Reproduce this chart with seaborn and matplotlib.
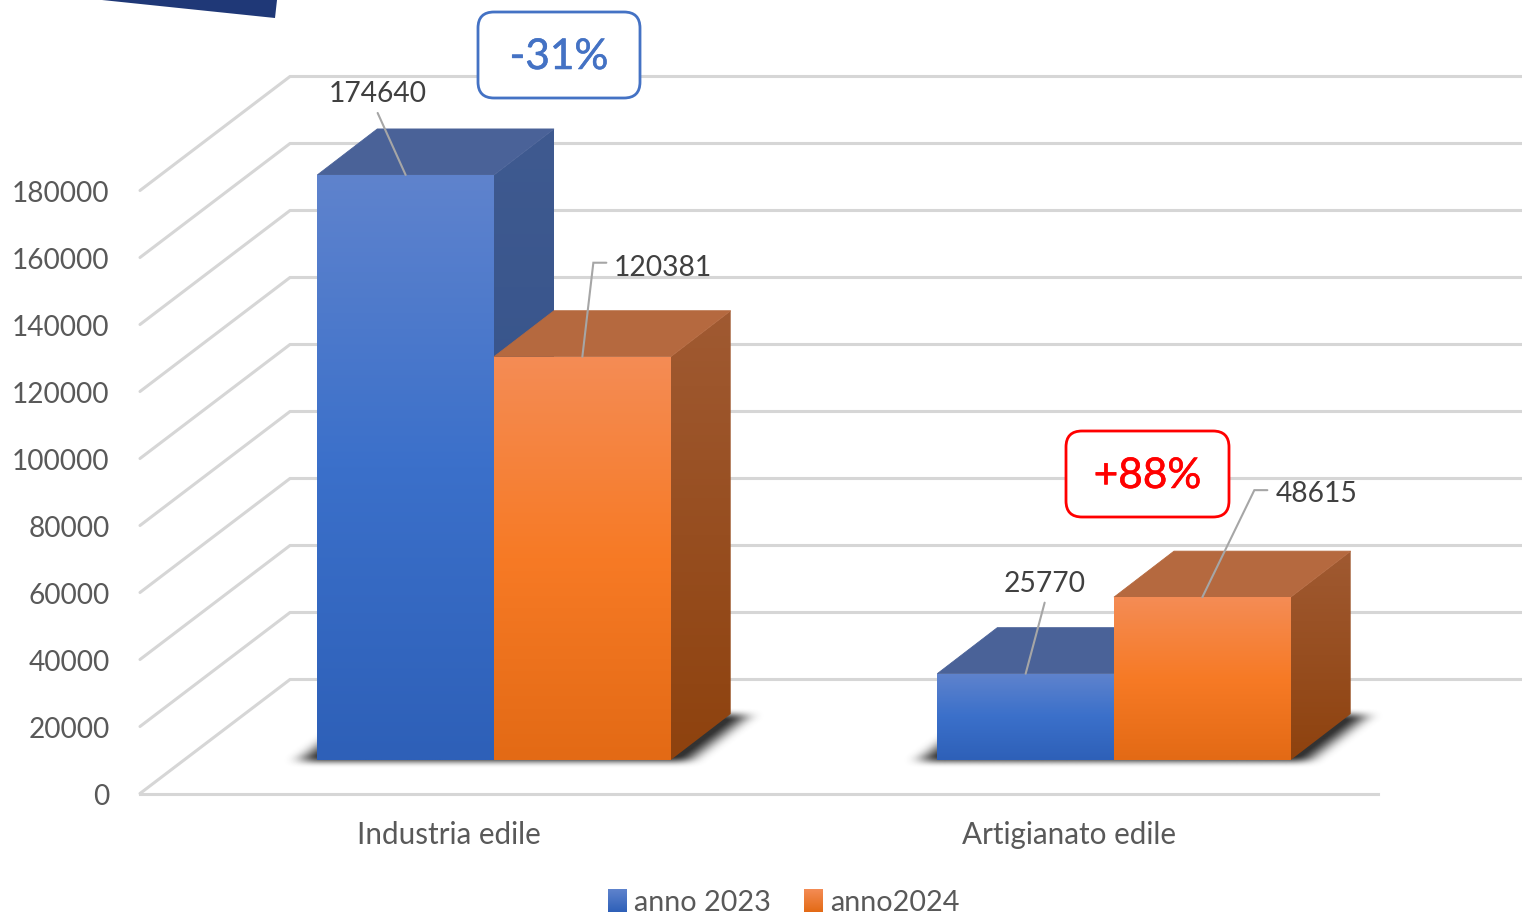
import numpy as np
import pandas as pd
import matplotlib
matplotlib.use('Agg')
import matplotlib.pyplot as plt
import matplotlib.patheffects as pe
import matplotlib.transforms as mtransforms
from matplotlib.colors import LinearSegmentedColormap
from matplotlib.patches import FancyBboxPatch, Polygon, Patch
import seaborn as sns

# Dati del grafico
categorie = ['Industria edile', 'Artigianato edile']
anno_2023 = [174640, 25770]
anno_2024 = [120381, 48615]
serie = ['anno 2023', 'anno2024']
tick_y = [0, 20000, 40000, 60000, 80000, 100000, 120000, 140000, 160000, 180000]

W, H = 1522, 914
SY = 67 / 20000      # pixel per unita
SX = 620             # pixel per categoria
DX, DY = 60 / SX, 46 / SY          # profondita delle barre
WALL_DX, WALL_DY = 150 / SX, 114 / SY  # profondita del pavimento

COL_GRID = '#d6d6d6'
COL_TEXT = '#595959'
COL_LABEL = '#404040'

sns.set_theme(style='white')
plt.rcParams['font.family'] = ['Lato', 'DejaVu Sans']

df = pd.DataFrame({
    'categoria': categorie * 2,
    'valore': anno_2023 + anno_2024,
    'serie': [serie[0]] * 2 + [serie[1]] * 2,
})

fig = plt.figure(figsize=(W / 100, H / 100), dpi=100)
px = mtransforms.Affine2D().scale(1 / W, -1 / H).translate(0, 1) + fig.transFigure

# assi "frontali": tick, etichette e griglia a parete
ax_front = fig.add_axes([140 / W, 1 - 793.5 / H, 1238 / W, 603 / H])
ax_front.set_xlim((140 - 449) / SX, (1378 - 449) / SX)
ax_front.set_ylim(0, 180000)
ax_front.patch.set_visible(False)
ax_front.set_xticks(range(len(categorie)), categorie)
ax_front.set_yticks(tick_y)
ax_front.tick_params(axis='x', length=0, pad=20, labelsize=21.3, labelcolor=COL_TEXT)
ax_front.tick_params(axis='y', length=0, pad=22, labelsize=20.2, labelcolor=COL_TEXT)
for s in ['top', 'right', 'left']:
    ax_front.spines[s].set_visible(False)
ax_front.spines['bottom'].set_color(COL_GRID)
ax_front.spines['bottom'].set_linewidth(2.2)
ax_front.grid(False)

giu = mtransforms.ScaledTranslation(0, -1 / 100, fig.dpi_scale_trans)
for lab in ax_front.get_yticklabels():
    lab.set_transform(lab.get_transform() + giu)

x_wall = ax_front.get_xlim()[0]
x_far = x_wall + (W - 140) / SX
for v in tick_y:
    ax_front.plot([x_wall, x_wall + WALL_DX, x_far], [v, v + WALL_DY, v + WALL_DY],
                  color=COL_GRID, lw=2.2, clip_on=False, solid_joinstyle='miter', zorder=1)

# assi delle barre: tutta la figura, zero a y=760 px
ax = fig.add_axes([0, 0, 1, 1])
ax.patch.set_visible(False)
sns.barplot(data=df, x='categoria', y='valore', hue='serie', order=categorie,
            hue_order=serie, width=0.57, gap=0, palette=['#3f70c8', '#f47a22'],
            legend=False, ax=ax)
xlim = (-494 / SX, (W - 494) / SX)
ylim = ((760 - H) / SY, 760 / SY)
ax.set_axis_off()

stili = {
    serie[0]: {'front': ['#5f83cd', '#3b70ca', '#2e60b8'], 'top': '#4a6298',
               'side': ['#3f5a90', '#2f4e86']},
    serie[1]: {'front': ['#f48c55', '#f77a25', '#e36a15'], 'top': '#b5693f',
               'side': ['#a05a32', '#8e420e']},
}


def sfumatura(colori, extent, clip, z):
    cmap = LinearSegmentedColormap.from_list('g', colori)
    im = ax.imshow(np.linspace(0, 1, 256).reshape(-1, 1), cmap=cmap, extent=extent,
                   aspect='auto', origin='upper', zorder=z, interpolation='bilinear')
    if clip is not None:
        im.set_clip_path(clip)
    return im


def ombra(x0, x1):
    # ombra sfumata sul pavimento sotto il gruppo di barre
    xs = x0 + np.arange(-90, (x1 - x0) * SX + 180) / SX
    ys = np.arange(-30, 90) / SY
    xx, yy = np.meshgrid(xs, ys)
    d = (yy / DY) * DX
    a = (xx - d > x0 - 16 / SX) & (xx - d < x1 + 18 / SX) & (yy * SY > -2) & (yy * SY < 46)
    a = a.astype(float)
    k = np.hanning(45)
    k = k / k.sum()
    a = np.apply_along_axis(lambda r: np.convolve(r, k, mode='same'), 1, a)
    k = np.hanning(17)
    k = k / k.sum()
    a = np.apply_along_axis(lambda r: np.convolve(r, k, mode='same'), 0, a)
    img = np.zeros(a.shape + (4,))
    img[..., :3] = 0.2
    img[..., 3] = np.clip(a * 1.1, 0, 1)
    ax.imshow(img, extent=(xs[0], xs[-1], ys[0], ys[-1]), origin='lower', aspect='auto',
              zorder=2, interpolation='bilinear')


barre = list(ax.patches)
n = len(categorie)
for i in range(n):
    ombra(barre[i].get_x(), barre[i + n].get_x() + barre[i + n].get_width())

z = 3
for j, nome in enumerate(serie):
    for i in range(n):
        b = barre[j * n + i]
        x0, x1, h = b.get_x(), b.get_x() + b.get_width(), b.get_height()
        st = stili[nome]
        lato = Polygon([(x1, 0), (x1 + DX, DY), (x1 + DX, h + DY), (x1, h)],
                       closed=True, fc='none', ec='none', transform=ax.transData)
        ax.add_patch(lato)
        sfumatura(st['side'], (x1, x1 + DX, 0, h + DY), lato, z)
        ax.add_patch(Polygon([(x0, h), (x0 + DX, h + DY), (x1 + DX, h + DY), (x1, h)],
                             closed=True, fc=st['top'], ec=st['top'], lw=0.6, zorder=z))
        b.set_facecolor('none')
        b.set_edgecolor('none')
        sfumatura(st['front'], (x0, x1, 0, h), b, z + 0.5)
    z += 1

ax.set_xlim(xlim)
ax.set_ylim(ylim)

# etichette dati con linea guida (offset in pixel dal centro della barra)
guide = [
    (barre[0], [(-28, -62), (0, 0)], (-28, -83), 'center'),
    (barre[n], [(0, 0), (11, -94), (24, -94)], (31, -91), 'left'),
    (barre[1], [(0, 0), (19, -71)], (19, -92), 'center'),
    (barre[n + 1], [(0, 0), (52, -107), (65, -107)], (73, -105), 'left'),
]
for b, linea, testo, ha in guide:
    cx = b.get_x() + b.get_width() / 2
    h = b.get_height()
    ax.plot([cx + p[0] / SX for p in linea], [h - p[1] / SY for p in linea],
            color='#a6a6a6', lw=1.5, zorder=8, solid_joinstyle='miter')
    ax.text(cx + testo[0] / SX, h - testo[1] / SY, f'{h:.0f}', ha=ha, va='center',
            fontsize=20.3, color=COL_LABEL, zorder=9,
            transform=ax.transData + mtransforms.Affine2D().translate(0, -2))

# riquadri delle variazioni
for x0, y0, x1, y1, col, txt in [(478, 12, 640, 98, '#4472c4', '-31%'),
                                 (1066, 431, 1229, 517, '#ff0000', '+88%')]:
    ax.add_patch(FancyBboxPatch((x0 + 16, y0 + 16), x1 - x0 - 32, y1 - y0 - 32,
                                boxstyle='round,pad=16,rounding_size=16', fc='white', ec=col,
                                lw=2, transform=px, zorder=10, clip_on=False))
    t = ax.text((x0 + x1) / 2, (y0 + y1) / 2 + 2, txt, ha='center', va='center', fontsize=30.5,
                color=col, transform=px, zorder=11)
    t.set_path_effects([pe.withStroke(linewidth=0.4, foreground=col)])

# angolo di forma blu in alto
ax.add_patch(Polygon([(102, 0), (277, 0), (275, 18)], closed=True, fc='#1f3877', ec='none',
                     transform=px, zorder=10, clip_on=False))

# legenda
maniglie = [Patch(fc='none', ec='none', label=serie[0]), Patch(fc='none', ec='none', label=serie[1])]
leg = fig.legend(handles=maniglie, loc='center', bbox_to_anchor=(784 / W, 1 - 902.5 / H), ncol=2,
                 frameon=False, fontsize=20.7, labelcolor=COL_TEXT, handlelength=0.66,
                 handleheight=0.85, handletextpad=0.25, columnspacing=1.15, borderpad=0)
fig.canvas.draw()
for mano, nome in zip(leg.legend_handles, serie):
    box = mano.get_window_extent().transformed(ax.transData.inverted())
    im = sfumatura([stili[nome]['front'][0], stili[nome]['front'][2]],
                   (box.x0, box.x1, box.y0, box.y1), None, 12)
    im.set_clip_on(False)
ax.set_xlim(xlim)
ax.set_ylim(ylim)

plt.savefig('out.png', dpi=100)
